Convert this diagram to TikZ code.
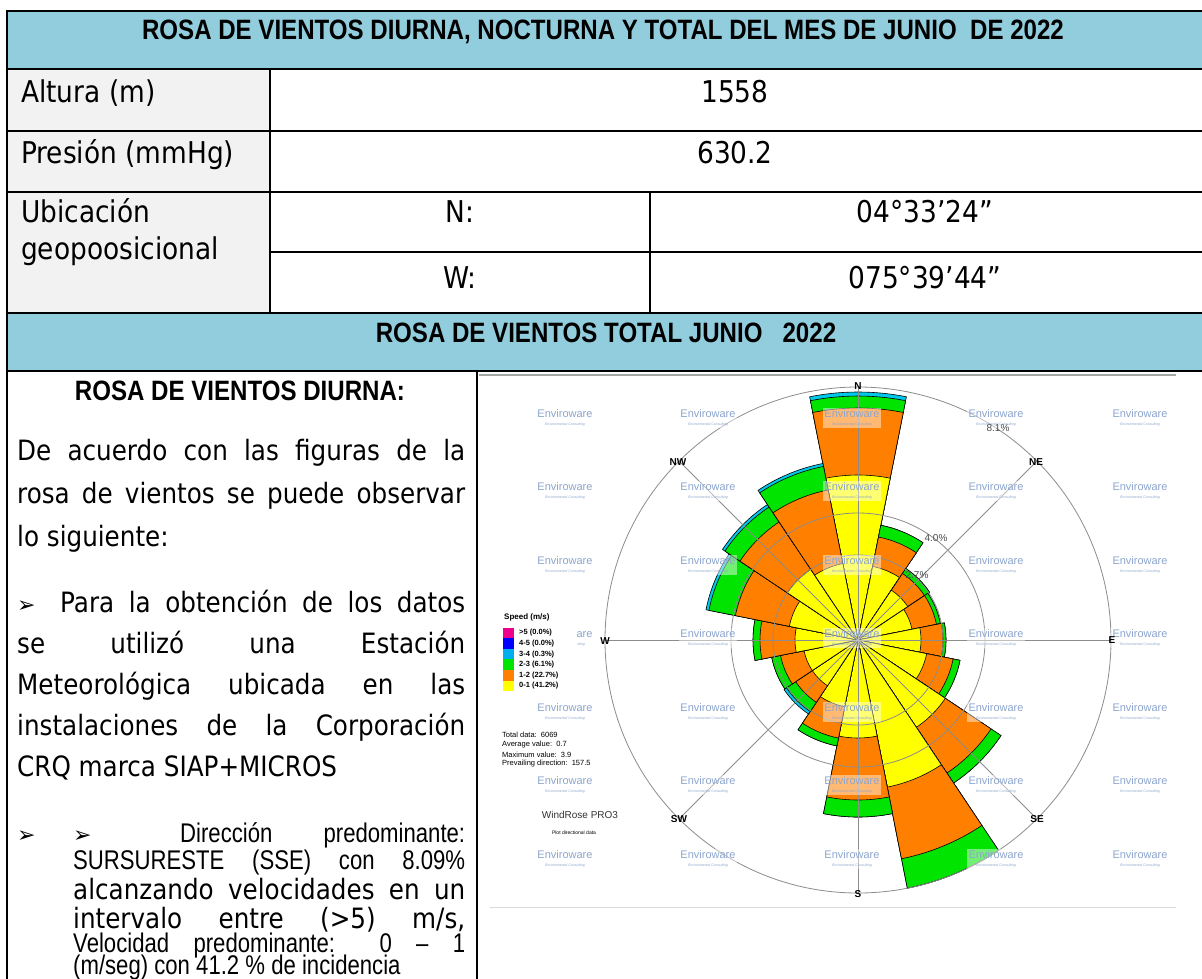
\documentclass[tikz,border=0pt]{standalone}
\usepackage{fontspec}
\setmainfont{DejaVu Sans}
\newfontfamily\tah{DejaVu Sans}[FakeStretch=0.88]
\newfontfamily\nar{Liberation Sans}[FakeStretch=0.86]
\newfontfamily\nars{Liberation Sans}[FakeStretch=0.82]
\newfontfamily\arl{Liberation Sans}
\newfontfamily\dv{DejaVu Sans}
\definecolor{hdr}{RGB}{146,205,221}
\definecolor{cellgray}{RGB}{242,242,242}
\definecolor{ry}{RGB}{255,255,0}
\definecolor{ro}{RGB}{255,128,0}
\definecolor{rg}{RGB}{0,228,0}
\definecolor{rc}{RGB}{0,200,235}
\definecolor{wmc}{RGB}{140,165,205}
\begin{document}
\begin{tikzpicture}[x=1pt,y=-1pt,
  tabline/.style={line width=2.3pt, line cap=rect},
  celltxt/.style={inner sep=0pt, font=\tah\fontsize{30}{36}\selectfont},
  bodytxt/.style={inner sep=0pt, font=\tah\fontsize{28}{34}\selectfont},
  headtxt/.style={inner sep=0pt, font=\nar\bfseries\fontsize{28}{34}\selectfont},
  smalltxt/.style={inner sep=0pt, font=\nars\fontsize{27}{32}\selectfont},
  bul/.style={inner sep=0pt, anchor=base west, font=\dv\fontsize{22}{26}\selectfont},
  petal/.style={draw=black, line width=0.6pt},
  gridc/.style={draw=black!45, line width=0.8pt},
  cmp/.style={inner sep=0pt, font=\arl\bfseries\fontsize{10}{10}\selectfont},
  pct/.style={inner sep=0pt, text=black!70, font=\arl\fontsize{10}{10}\selectfont},
  wm/.style={fill=white, fill opacity=0.45, text opacity=1, text=wmc, inner sep=1.5pt,
    align=center, font=\arl\fontsize{11}{10}\selectfont},
  leg/.style={inner sep=0pt, anchor=west, font=\arl\bfseries\fontsize{7.5}{8}\selectfont},
  stat/.style={inner sep=0pt, anchor=west, font=\arl\fontsize{7.5}{8}\selectfont}
]
\useasboundingbox (0,0) rectangle (1202,978);
\fill[white] (0,0) rectangle (1202,978);

% ---------- table fills ----------
\fill[hdr] (7,11) rectangle (1202,69);
\fill[hdr] (7,313) rectangle (1202,371);
\fill[cellgray] (7,69) rectangle (270,313);

% ---------- wind rose image ----------
\draw[black!35, line width=1.2pt] (479,375) -- (1176,375);
\draw[black!15, line width=0.8pt] (490,907) -- (1176,907);

\begin{scope}[shift={(858,640)},y=1pt]
  \foreach \d/\Y/\O/\G/\C in {
     0/165/232/244/248, 22.5/75/105/117/117, 45/60/80/86/86, 67.5/55/80/84/84,
     90/63/85/88/88, 112.5/70/97/104/104, 135/105/160/172/172, 157.5/150/223/253/253,
     180/98/160/177/177, 202.5/68/100/108/108, 225/55/75/86/89, 247.5/55/79/88/88,
     270/63/98/105/105, 292.5/70/125/152/155, 315/85/142/160/163, 337.5/78/153/177/180}{
    \pgfmathsetmacro\sa{90-\d-11.25}
    \pgfmathsetmacro\ea{90-\d+11.25}
    \filldraw[petal,fill=rc] (0,0) -- (\sa:\C) arc[start angle=\sa,end angle=\ea,radius=\C] -- cycle;
    \filldraw[petal,fill=rg] (0,0) -- (\sa:\G) arc[start angle=\sa,end angle=\ea,radius=\G] -- cycle;
    \filldraw[petal,fill=ro] (0,0) -- (\sa:\O) arc[start angle=\sa,end angle=\ea,radius=\O] -- cycle;
    \filldraw[petal,fill=ry] (0,0) -- (\sa:\Y) arc[start angle=\sa,end angle=\ea,radius=\Y] -- cycle;
  }
  \draw[gridc] (0,0) circle[radius=85];
  \draw[gridc] (0,0) circle[radius=127];
  \draw[gridc] (0,0) circle[radius=253];
  \foreach \a in {0,45,...,315} \draw[gridc] (0,0) -- (\a:253);
\end{scope}

% watermarks
\foreach \x in {565,708,852,996,1140}{
  \foreach \y in {418,491,565,712,785,859}{
    \node[wm] (wm-\x-\y) at (\x,\y) {Enviroware\\[-2pt]{\fontsize{3.5}{4}\selectfont\itshape Environmental Consulting}};
  }
}
\foreach \x in {708,852,996,1140}{
  \node[wm] (wm-\x-638) at (\x,638) {Enviroware\\[-2pt]{\fontsize{3.5}{4}\selectfont\itshape Environmental Consulting}};
}
\begin{scope}
  \clip (577,620) rectangle (600,660);
  \node[wm] (wm-565-638) at (565,638) {Enviroware\\[-2pt]{\fontsize{3.5}{4}\selectfont\itshape Environmental Consulting}};
\end{scope}

% compass + percent labels
\node[cmp] (cN) at (858,386) {N};
\node[cmp] (cNE) at (1036,462) {NE};
\node[cmp] (cE) at (1112,640) {E};
\node[cmp] (cSE) at (1037,819) {SE};
\node[cmp] (cS) at (858,894) {S};
\node[cmp] (cSW) at (679,819) {SW};
\node[cmp] (cW) at (605,641) {W};
\node[cmp] (cNW) at (678,462) {NW};
\node[pct] (p81) at (998,428) {8.1\%};
\node[pct] (p40) at (936,538) {4.0\%};
\node[pct] (p27) at (917,575) {2.7\%};

% legend
\node[leg, font=\arl\bfseries\fontsize{8}{8}\selectfont] (spd) at (504,617) {Speed (m/s)};
\foreach \c/\t [count=\i] in {magenta/{>5 (0.0\%)}, blue/{4-5 (0.0\%)}, cyan/{3-4 (0.3\%)},
    rg/{2-3 (6.1\%)}, ro/{1-2 (22.7\%)}, ry/{0-1 (41.2\%)}}{
  \fill[\c] (503,{617+10.6*\i}) rectangle (514,{627.6+10.6*\i});
  \node[leg] (lg\i) at (519,{622.3+10.6*\i}) {\t};
}
\node[stat] (st1) at (502,735) {Total data:\ \ 6069};
\node[stat] (st2) at (502,745) {Average value:\ \ 0.7};
\node[stat] (st3) at (502,754.5) {Maximum value:\ \ 3.9};
\node[stat] (st4) at (502,764) {Prevailing direction:\ \ 157.5};
\node[inner sep=0pt, font=\arl\fontsize{10}{10}\selectfont, text=black!80] (wr) at (580,815) {WindRose PRO3};
\node[inner sep=0pt, font=\arl\fontsize{5}{5}\selectfont] (pd) at (574,833) {Plot directional data};

% ---------- table lines ----------
\draw[tabline] (7,11) -- (1202,11);
\draw[tabline] (7,69) -- (1202,69);
\draw[tabline] (7,131) -- (1202,131);
\draw[tabline] (7,192) -- (1202,192);
\draw[tabline] (270,252) -- (1202,252);
\draw[tabline] (7,313) -- (1202,313);
\draw[tabline] (7,371) -- (1202,371);
\draw[tabline] (7,11) -- (7,978);
\draw[tabline] (270,69) -- (270,313);
\draw[tabline] (650,192) -- (650,313);
\draw[tabline] (477,371) -- (477,978);

% ---------- table text ----------
\node[headtxt, anchor=base] (title) at (603,39) {ROSA DE VIENTOS DIURNA, NOCTURNA Y TOTAL DEL MES DE JUNIO\ \ DE 2022};
\node[celltxt, anchor=base west] (alt) at (21,102) {Altura (m)};
\node[celltxt, anchor=base] (altv) at (735,102) {1558};
\node[celltxt, anchor=base west] (pre) at (21,163) {Presión (mmHg)};
\node[celltxt, anchor=base] (prev) at (735,163) {630.2};
\node[celltxt, anchor=base west] (ubi1) at (21,222) {Ubicación};
\node[celltxt, anchor=base west] (ubi2) at (21,259) {geopoosicional};
\node[celltxt, anchor=base] (nl) at (460,222) {N:};
\node[celltxt, anchor=base] (nv) at (925,222) {04°33’24”};
\node[celltxt, anchor=base] (wl) at (460,288) {W:};
\node[celltxt, anchor=base] (wv) at (925,288) {075°39’44”};
\node[headtxt, anchor=base] (h2) at (606,342) {ROSA DE VIENTOS TOTAL JUNIO\ \ \ 2022};
\node[headtxt, anchor=base] (diu) at (240,400) {ROSA DE VIENTOS DIURNA:};

\node[bodytxt, anchor=base west] (p1a) at (17,460) {\makebox[448pt][s]{De acuerdo con las figuras de la}};
\node[bodytxt, anchor=base west] (p1b) at (17,503) {\makebox[448pt][s]{rosa de vientos se puede observar}};
\node[bodytxt, anchor=base west] (p1c) at (17,546) {lo siguiente:};

\node[bul] (b1) at (17,612) {➢};
\node[bodytxt, anchor=base west] (p2a) at (60,612) {\makebox[405pt][s]{Para la obtención de los datos}};
\node[bodytxt, anchor=base west] (p2b) at (17,653) {\makebox[448pt][s]{se utilizó una Estación}};
\node[bodytxt, anchor=base west] (p2c) at (17,694) {\makebox[448pt][s]{Meteorológica ubicada en las}};
\node[bodytxt, anchor=base west] (p2d) at (17,735) {\makebox[448pt][s]{instalaciones de la Corporación}};
\node[bodytxt, anchor=base west] (p2e) at (17,776) {CRQ marca SIAP+MICROS};

\node[bul] (b2) at (17,842) {➢};
\node[bul] (b3) at (73,842) {➢};
\node[smalltxt, anchor=base west] (p3a) at (180,842) {\makebox[285pt][s]{Dirección predominante:}};
\node[smalltxt, anchor=base west] (p3b) at (73,869) {\makebox[392pt][s]{SURSURESTE (SSE) con 8.09\%}};
\node[bodytxt, anchor=base west] (p3c) at (73,899) {\makebox[392pt][s]{alcanzando velocidades en un}};
\node[bodytxt, anchor=base west] (p3d) at (73,928) {\makebox[392pt][s]{intervalo entre (>5) m/s,}};
\node[smalltxt, anchor=base west] (p3e) at (73,952) {\makebox[392pt][s]{Velocidad predominante: 0 – 1}};
\node[smalltxt, anchor=base west] (p3f) at (73,974) {(m/seg) con 41.2 \% de incidencia};
\end{tikzpicture}
\end{document}
